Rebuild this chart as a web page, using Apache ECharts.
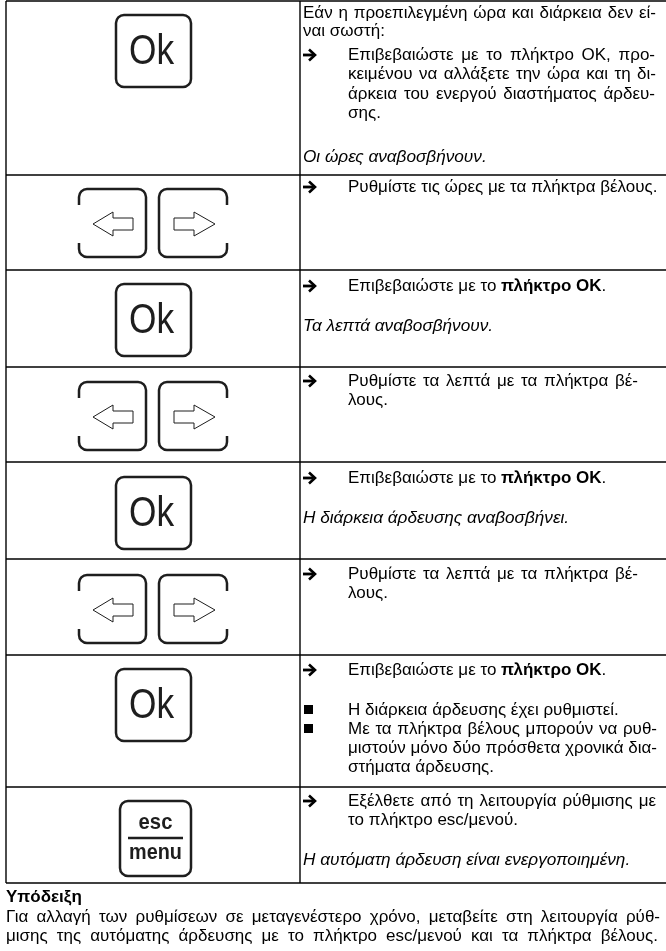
<!DOCTYPE html>
<html>
<head>
<meta charset="utf-8">
<script src="https://cdn.jsdelivr.net/npm/echarts@6/dist/echarts.min.js"></script>
<style>
html,body{margin:0;padding:0;background:#fff;}
#main{width:666px;height:951px;}
</style>
</head>
<body>
<div id="main"></div>
<script>
// ---- content ----
const keyTypes = ['ok','arrows','ok','arrows','ok','arrows','ok','esc'];
const row1Lines = [
  ['p','Εάν η προεπιλεγμένη ώρα και διάρκεια δεν εί-'],
  ['p','ναι σωστή:'],
  ['arrow','Επιβεβαιώστε με το πλήκτρο ΟΚ, προ-'],
  ['cont','κειμένου να αλλάξετε την ώρα και τη δι-'],
  ['cont','άρκεια του ενεργού διαστήματος άρδευ-'],
  ['cont','σης.'],
  ['italic','Οι ώρες αναβοσβήνουν.']
];
const row2Lines = [['arrow','Ρυθμίστε τις ώρες με τα πλήκτρα βέλους.']];
const row3Lines = [['arrowBold','Επιβεβαιώστε με το |πλήκτρο ΟΚ|.'],['italic','Τα λεπτά αναβοσβήνουν.']];
const row4Lines = [['arrow','Ρυθμίστε τα λεπτά με τα πλήκτρα βέ-'],['cont','λους.']];
const row5Lines = [['arrowBold','Επιβεβαιώστε με το |πλήκτρο ΟΚ|.'],['italic','Η διάρκεια άρδευσης αναβοσβήνει.']];
const row6Lines = [['arrow','Ρυθμίστε τα λεπτά με τα πλήκτρα βέ-'],['cont','λους.']];
const row7Lines = [
  ['arrowBold','Επιβεβαιώστε με το |πλήκτρο ΟΚ|.'],
  ['bullet','Η διάρκεια άρδευσης έχει ρυθμιστεί.'],
  ['bullet','Με τα πλήκτρα βέλους μπορούν να ρυθ-'],
  ['cont','μιστούν μόνο δύο πρόσθετα χρονικά δια-'],
  ['cont','στήματα άρδευσης.']
];
const row8Lines = [
  ['arrow','Εξέλθετε από τη λειτουργία ρύθμισης με'],
  ['cont','το πλήκτρο esc/μενού.'],
  ['italic','Η αυτόματη άρδευση είναι ενεργοποιημένη.']
];
const noteTitle = 'Υπόδειξη';
const noteLines = [
  'Για αλλαγή των ρυθμίσεων σε μεταγενέστερο χρόνο, μεταβείτε στη λειτουργία ρύθ-',
  'μισης της αυτόματης άρδευσης με το πλήκτρο esc/μενού και τα πλήκτρα βέλους.'
];
const okLabel = 'Ok';
const escLabels = ['esc','menu'];

// ---- layout ----
const rowEdges = [1,175,270,367,462,559,655,787,883];
const lineYs = [
  [13,31,55,74,94,113,157],
  [187],
  [286,326],
  [381,400],
  [478,518],
  [574,593],
  [670,710,729,748,767],
  [801,820,860]
];
// right edge to justify each line to (0 = natural width)
const justifyTo = [
  [656,0,655,656,655,0,0],
  [0],
  [0,0],
  [638,0],
  [0,0],
  [638,0],
  [0,0,657,657,0],
  [656,0,0]
];
const noteJustify = [660,658];
const keyTops = [15,189,284,382,477,575,669,801];
const allRows = [row1Lines,row2Lines,row3Lines,row4Lines,row5Lines,row6Lines,row7Lines,row8Lines];

const FONT = '"Liberation Sans", Arial, sans-serif';
const FS = 17;
const LX = 6, RX = 666, CX = 300, TX = 303, IX = 348;
const INK = '#000', KEY = '#1e1e1e';
const els = [];
const mctx = document.createElement('canvas').getContext('2d');

function fontStr(opt){ return (opt.style||'normal')+' '+(opt.weight||'normal')+' '+(opt.size||FS)+'px '+FONT; }
function line(x1,y1,x2,y2,w,c){
  els.push({type:'line',shape:{x1,y1,x2,y2},style:{stroke:c||INK,lineWidth:w||1.4}});
}
function text(x,y,t,opt){
  opt=opt||{};
  els.push({type:'text',x,y,scaleX:opt.scaleX||1,style:Object.assign({text:t,fill:INK,
    font:fontStr(opt),textVerticalAlign:'middle',textAlign:opt.align||'left'},opt.extra||{})});
}
function jText(x,y,t,right,opt){
  opt=opt||{};
  if(!right){ text(x,y,t,opt); return; }
  const f=fontStr(opt); mctx.font=f;
  const words=t.split(' ');
  const ws=words.map(w=>mctx.measureText(w).width);
  const sum=ws.reduce((a,b)=>a+b,0);
  const gap=words.length>1?(right-x-sum)/(words.length-1):0;
  let cx=x;
  words.forEach((w,i)=>{ text(cx,y,w,opt); cx+=ws[i]+gap; });
}
function richText(x,y,t){
  const parts=t.split('|');
  const s='{n|'+parts[0]+'}{b|'+parts[1]+'}{n|'+parts[2]+'}';
  els.push({type:'text',x,y,style:{text:s,textVerticalAlign:'middle',
    rich:{n:{fontSize:FS,fontFamily:FONT,fill:INK,color:INK},
          b:{fontSize:FS,fontFamily:FONT,fontWeight:'bold',fill:INK,color:INK}}}});
}
function arrowGlyph(y){
  els.push({type:'polyline',shape:{points:[[303,y],[313,y]]},style:{stroke:INK,lineWidth:2.8,fill:null}});
  els.push({type:'polyline',shape:{points:[[309,y-5.5],[315,y],[309,y+5.5]]},style:{stroke:INK,lineWidth:2.6,fill:null,lineJoin:'miter'}});
}
function roundRect(x0,y0,x1,y1,r){
  els.push({type:'rect',shape:{x:x0,y:y0,width:x1-x0,height:y1-y0,r:r},style:{stroke:KEY,lineWidth:2.5,fill:null}});
}
function okKey(t){
  roundRect(116,t,191,t+72,8);
  text(151.5,t+37,okLabel,{size:43,align:'center',scaleX:0.82,extra:{fill:KEY}});
}
function arrowKeys(t){
  roundRect(79,t,146,t+68,8);
  roundRect(159,t,227,t+68,8);
  els.push({type:'rect',shape:{x:76,y:t+16,width:6,height:38},style:{fill:'#fff'}});
  els.push({type:'rect',shape:{x:224,y:t+16,width:6,height:38},style:{fill:'#fff'}});
  const cy=t+35;
  els.push({type:'polygon',shape:{points:[[93,cy],[113,cy-12],[113,cy-6],[133,cy-6],[133,cy+6],[113,cy+6],[113,cy+12]]},style:{stroke:KEY,lineWidth:1,fill:'#fff'}});
  els.push({type:'polygon',shape:{points:[[215,cy],[194,cy-12],[194,cy-6],[174,cy-6],[174,cy+6],[194,cy+6],[194,cy+12]]},style:{stroke:KEY,lineWidth:1,fill:'#fff'}});
}
function escKey(t){
  roundRect(120,t,191,t+75,8);
  text(155.5,t+22,escLabels[0],{size:22,weight:'bold',align:'center',scaleX:0.92,extra:{fill:KEY}});
  line(128,t+37,183,t+37,2.6,KEY);
  text(155.5,t+52,escLabels[1],{size:22,weight:'bold',align:'center',scaleX:0.9,extra:{fill:KEY}});
}

// table lines
rowEdges.forEach(y=>line(LX,y,RX,y));
line(LX,rowEdges[0],LX,rowEdges[rowEdges.length-1]);
line(CX,rowEdges[0],CX,rowEdges[rowEdges.length-1]);

keyTypes.forEach((k,i)=>{
  if(k==='ok') okKey(keyTops[i]);
  else if(k==='arrows') arrowKeys(keyTops[i]);
  else escKey(keyTops[i]);
});

allRows.forEach((rows,i)=>{
  rows.forEach((ln,j)=>{
    const y=lineYs[i][j], R=justifyTo[i][j];
    const kind=ln[0], t=ln[1];
    if(kind==='p') jText(TX,y,t,R);
    else if(kind==='arrow'){arrowGlyph(y);jText(IX,y,t,R);}
    else if(kind==='arrowBold'){arrowGlyph(y);richText(IX,y,t);}
    else if(kind==='cont') jText(IX,y,t,R);
    else if(kind==='italic') jText(TX,y,t,R,{style:'italic',size:17.2});
    else if(kind==='bullet'){
      els.push({type:'rect',shape:{x:304,y:y-5,width:9,height:9},style:{fill:INK}});
      jText(IX,y,t,R);
    }
  });
});

text(LX,897,noteTitle,{weight:'bold'});
jText(LX,917,noteLines[0],noteJustify[0]);
jText(LX,936,noteLines[1],noteJustify[1]);

const chart = echarts.init(document.getElementById('main'),null,{renderer:'canvas'});
chart.setOption({backgroundColor:'#fff',animation:false,graphic:{elements:els}});
</script>
</body>
</html>
